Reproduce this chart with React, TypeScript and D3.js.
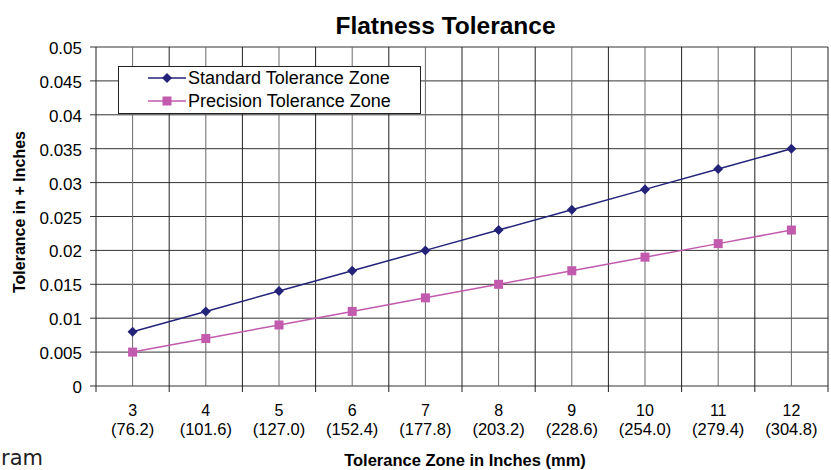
import React, {useEffect, useRef} from 'react';
import * as d3 from 'd3';

// chart values
const inches: string[] = ['3', '4', '5', '6', '7', '8', '9', '10', '11', '12'];
const millimetres: string[] = ['(76.2)', '(101.6)', '(127.0)', '(152.4)', '(177.8)', '(203.2)', '(228.6)', '(254.0)', '(279.4)', '(304.8)'];
const standardZone: number[] = [0.008, 0.011, 0.014, 0.017, 0.020, 0.023, 0.026, 0.029, 0.032, 0.035];
const precisionZone: number[] = [0.005, 0.007, 0.009, 0.011, 0.013, 0.015, 0.017, 0.019, 0.021, 0.023];
const yTicks: number[] = [0, 0.005, 0.01, 0.015, 0.02, 0.025, 0.03, 0.035, 0.04, 0.045, 0.05];

const App = () => {
  const ref = useRef<SVGSVGElement>(null);

  useEffect(() => {
    drawChart();
    return () => {
      d3.select(ref.current).selectAll('*').remove();
    };
  }, []);

  const drawChart = () => {
    const width = 831;
    const height = 470;
    const margin = {top: 47, right: 3, bottom: 84, left: 96};
    const font = 'Arial, "Liberation Sans", sans-serif';

    const svg = d3.select(ref.current);

    const x = d3.scaleBand<string>()
      .domain(inches)
      .range([margin.left, width - margin.right]);
    const y = d3.scaleLinear()
      .domain([0, 0.05])
      .range([height - margin.bottom, margin.top]);

    const bw = x.bandwidth();
    const mid = (c: string) => (x(c) as number) + bw / 2;

    // title
    svg.append('text')
      .attr('x', 445.5)
      .attr('y', 34)
      .attr('text-anchor', 'middle')
      .attr('font-family', font)
      .attr('font-weight', 'bold')
      .attr('font-size', 24.5)
      .text('Flatness Tolerance');

    // horizontal grid
    svg.append('g').selectAll('line')
      .data(yTicks)
      .enter().append('line')
      .attr('x1', margin.left - 6)
      .attr('x2', width - margin.right)
      .attr('y1', d => y(d))
      .attr('y2', d => y(d))
      .attr('stroke', '#333')
      .attr('stroke-width', 1);

    // vertical grid: at boundaries and centres of each category
    const vLines: {pos: number; edge: boolean}[] = [];
    inches.forEach(c => {
      vLines.push({pos: x(c) as number, edge: true});
      vLines.push({pos: mid(c), edge: false});
    });
    vLines.push({pos: width - margin.right, edge: true});

    svg.append('g').selectAll('line')
      .data(vLines)
      .enter().append('line')
      .attr('x1', d => d.pos)
      .attr('x2', d => d.pos)
      .attr('y1', margin.top)
      .attr('y2', d => d.edge ? y(0) + 6 : y(0))
      .attr('stroke', d => d.edge ? '#222' : '#6a6a6a')
      .attr('stroke-width', 1);

    // y tick labels
    svg.append('g').selectAll('text')
      .data(yTicks)
      .enter().append('text')
      .attr('x', 82)
      .attr('y', d => y(d) + 7)
      .attr('text-anchor', 'end')
      .attr('font-family', font)
      .attr('font-size', 17)
      .text(d => String(d));

    // x tick labels (two lines)
    const xl = svg.append('g');
    xl.selectAll('text.in')
      .data(inches)
      .enter().append('text')
      .attr('class', 'in')
      .attr('x', d => mid(d))
      .attr('y', 416)
      .attr('text-anchor', 'middle')
      .attr('font-family', font)
      .attr('font-size', 16)
      .text(d => d);
    xl.selectAll('text.mm')
      .data(inches)
      .enter().append('text')
      .attr('class', 'mm')
      .attr('x', d => mid(d))
      .attr('y', 435)
      .attr('text-anchor', 'middle')
      .attr('font-family', font)
      .attr('font-size', 16.5)
      .text((d, i) => millimetres[i]);

    // axis titles
    svg.append('text')
      .attr('x', 465)
      .attr('y', 466)
      .attr('text-anchor', 'middle')
      .attr('font-family', font)
      .attr('font-weight', 'bold')
      .attr('font-size', 16.5)
      .text('Tolerance Zone in Inches (mm)');

    svg.append('text')
      .attr('transform', 'translate(25,212) rotate(-90)')
      .attr('text-anchor', 'middle')
      .attr('font-family', font)
      .attr('font-weight', 'bold')
      .attr('font-size', 16)
      .text('Tolerance in + Inches');

    // series
    const line = d3.line<number>()
      .x((d, i) => mid(inches[i]))
      .y(d => y(d));

    const navy = '#23237a';
    const pink = '#c25aae';

    svg.append('path')
      .datum(standardZone)
      .attr('d', line)
      .attr('fill', 'none')
      .attr('stroke', navy)
      .attr('stroke-width', 1.5);
    svg.append('path')
      .datum(precisionZone)
      .attr('d', line)
      .attr('fill', 'none')
      .attr('stroke', pink)
      .attr('stroke-width', 1.5);

    const diamond = d3.symbol().type(d3.symbolDiamond2).size(64);
    svg.append('g').selectAll('path')
      .data(standardZone)
      .enter().append('path')
      .attr('d', diamond)
      .attr('transform', (d, i) => `translate(${mid(inches[i])},${y(d)})`)
      .attr('fill', navy);

    svg.append('g').selectAll('rect')
      .data(precisionZone)
      .enter().append('rect')
      .attr('x', (d, i) => mid(inches[i]) - 4.5)
      .attr('y', d => y(d) - 4.5)
      .attr('width', 9)
      .attr('height', 9)
      .attr('fill', pink);

    // legend
    const lg = svg.append('g');
    lg.append('rect')
      .attr('x', 118.5)
      .attr('y', 66.5)
      .attr('width', 302)
      .attr('height', 47)
      .attr('fill', 'white')
      .attr('stroke', '#222');
    const items = [
      {label: 'Standard Tolerance Zone', color: navy, kind: 'diamond', yy: 78},
      {label: 'Precision Tolerance Zone', color: pink, kind: 'square', yy: 101},
    ];
    items.forEach(it => {
      lg.append('line')
        .attr('x1', 148).attr('x2', 186)
        .attr('y1', it.yy).attr('y2', it.yy)
        .attr('stroke', it.color)
        .attr('stroke-width', 1.5);
      if (it.kind === 'diamond') {
        lg.append('path')
          .attr('d', diamond)
          .attr('transform', `translate(167,${it.yy})`)
          .attr('fill', it.color);
      } else {
        lg.append('rect')
          .attr('x', 162.5).attr('y', it.yy - 4.5)
          .attr('width', 9).attr('height', 9)
          .attr('fill', it.color);
      }
      lg.append('text')
        .attr('x', 188)
        .attr('y', it.yy + 6)
        .attr('font-family', font)
        .attr('font-size', 18)
        .text(it.label);
    });

    // leftover caption fragment at the page edge
    svg.append('text')
      .attr('x', 1)
      .attr('y', 465)
      .attr('font-family', '"DejaVu Sans", sans-serif')
      .attr('font-size', 21)
      .attr('fill', '#222')
      .text('ram');
  };

  return (
    <svg ref={ref} width={831} height={470}
      style={{position: 'absolute', left: 0, top: 0, background: 'white'}} />
  );
};

export default App;
